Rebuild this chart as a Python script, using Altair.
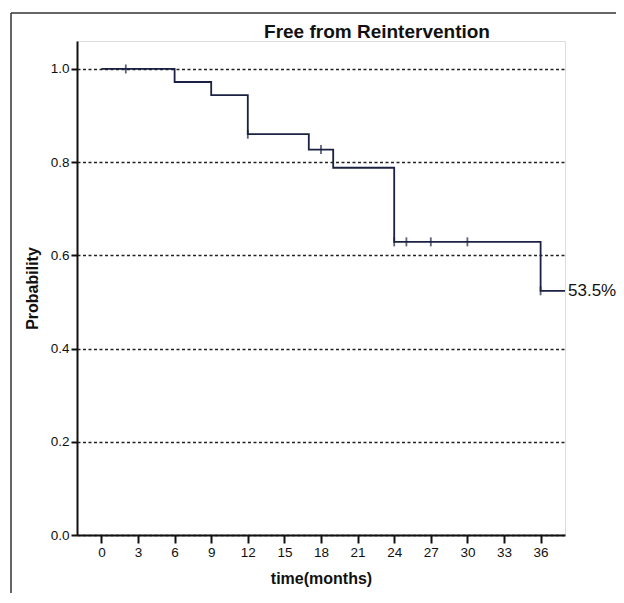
import altair as alt
import pandas as pd

# Kaplan-Meier step curve (months, survival probability)
step_time = [0, 6, 9, 12, 17, 19, 24, 36, 38]
step_prob = [1.0, 0.972, 0.944, 0.860, 0.827, 0.788, 0.629, 0.524, 0.524]

# censored observations
censor_time = [2, 12, 18, 24, 25, 27, 30, 36]
censor_prob = [1.0, 0.860, 0.827, 0.629, 0.629, 0.629, 0.629, 0.524]

x_ticks = [0, 3, 6, 9, 12, 15, 18, 21, 24, 27, 30, 33, 36]
y_ticks = [0.0, 0.2, 0.4, 0.6, 0.8, 1.0]

chart_title = "Free from Reintervention"
end_label = "53.5%"
end_time = [38]
end_prob = [0.524]

steps = pd.DataFrame({"time": step_time, "prob": step_prob})
censors = pd.DataFrame({"time": censor_time, "prob": censor_prob})
label_df = pd.DataFrame({"time": end_time, "prob": end_prob, "label": [end_label]})

FONT = "Liberation Sans"

xscale = alt.Scale(domain=[-2, 38], nice=False, zero=False)
yscale = alt.Scale(domain=[0, 1.06], nice=False, zero=False)

xaxis = alt.Axis(
    values=x_ticks, title="time(months)", grid=False,
    domainColor="#111", domainWidth=2, tickColor="#111", tickWidth=2, tickSize=8,
    labelFont=FONT, labelFontSize=13.5, labelColor="#111", labelPadding=2,
    titleFont=FONT, titleFontSize=16, titleFontWeight="bold", titleColor="#111",
    titleBaseline="alphabetic", titleY=48, titleX=244,
)
yaxis = alt.Axis(
    values=y_ticks, format=".1f", title="Probability",
    grid=True, gridColor="#222", gridDash=[3, 2.5], gridWidth=1.3,
    domainColor="#111", domainWidth=2, tickColor="#111", tickWidth=2, tickSize=6,
    labelFont=FONT, labelFontSize=13.5, labelColor="#111", labelPadding=2,
    titleFont=FONT, titleFontSize=16, titleFontWeight="bold", titleColor="#111",
    titleAngle=270, titleAlign="center", titleBaseline="alphabetic",
    titleX=-40, titleY=247,
)

LINE = "#1b2142"

curve = alt.Chart(steps).mark_line(interpolate="step-after", color=LINE, strokeWidth=1.8).encode(
    x=alt.X("time:Q", scale=xscale, axis=xaxis),
    y=alt.Y("prob:Q", scale=yscale, axis=yaxis),
)

ticks = alt.Chart(censors).mark_tick(orient="vertical", color=LINE, size=9, thickness=1.8).encode(
    x=alt.X("time:Q", scale=xscale),
    y=alt.Y("prob:Q", scale=yscale),
)

label = alt.Chart(label_df).mark_text(
    align="left", baseline="middle", dx=3, font=FONT, fontSize=17, color="#111"
).encode(
    x=alt.X("time:Q", scale=xscale),
    y=alt.Y("prob:Q", scale=yscale),
    text="label:N",
)

title_df = pd.DataFrame({"t": [chart_title]})
title = alt.Chart(title_df).mark_text(
    align="center", baseline="alphabetic", font=FONT, fontSize=19, fontWeight="bold", color="#111"
).encode(
    x=alt.value(300), y=alt.value(-3), text="t:N"
)

# outer frame (decoration)
frame_left = alt.Chart(pd.DataFrame({"a": [0]})).mark_rule(color="#333", strokeWidth=1.5).encode(
    x=alt.value(-66), y=alt.value(-28), y2=alt.value(560)
)
frame_top = alt.Chart(pd.DataFrame({"a": [0]})).mark_rule(color="#333", strokeWidth=1.5).encode(
    x=alt.value(-66), x2=alt.value(560), y=alt.value(-28)
)

chart = alt.layer(frame_left, frame_top, curve, ticks, label, title).properties(
    width=488,
    height=494,
    autosize=alt.AutoSizeParams(type="none"),
    padding={"left": 69, "top": 33, "right": 51, "bottom": 58},
).configure_view(stroke=None).configure(background="white")

chart.save("out.html", embed_options={"renderer": "svg", "actions": False})
